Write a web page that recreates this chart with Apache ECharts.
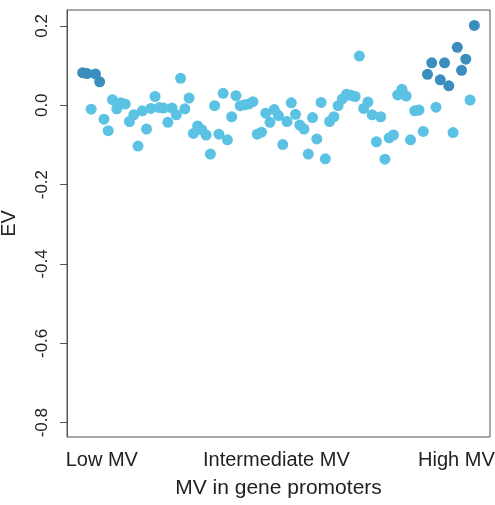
<!DOCTYPE html>
<html>
<head>
<meta charset="utf-8">
<script src="https://cdn.jsdelivr.net/npm/echarts@6/dist/echarts.min.js"></script>
<style>
html,body{margin:0;padding:0;background:#fff;}
#chart{width:495px;height:505px;}
</style>
</head>
<body>
<div id="chart"></div>
<script>
// EV value of each promoter-MV bin, ordered from low to high MV
const evValues = [
  0.082, 0.080, -0.010, 0.079, 0.059, -0.035, -0.064, 0.014, -0.009, 0.006,
  0.003, -0.041, -0.024, -0.103, -0.014, -0.060, -0.008, 0.022, -0.006, -0.007,
  -0.043, -0.007, -0.024, 0.068, -0.009, 0.018, -0.071, -0.052, -0.062, -0.075,
  -0.123, -0.001, -0.073, 0.030, -0.087, -0.029, 0.024, -0.001, 0.001, 0.003,
  0.009, -0.073, -0.068, -0.020, -0.043, -0.011, -0.026, -0.099, -0.041, 0.006,
  -0.023, -0.050, -0.060, -0.123, -0.031, -0.085, 0.007, -0.135, -0.041, -0.029,
  -0.001, 0.016, 0.028, 0.025, 0.022, 0.124, -0.008, 0.008, -0.024, -0.092,
  -0.029, -0.136, -0.082, -0.075, 0.026, 0.040, 0.023, -0.087, -0.014, -0.012,
  -0.066, 0.078, 0.107, -0.005, 0.064, 0.107, 0.049, -0.069, 0.146, 0.088,
  0.116, 0.013, 0.201
];
// 1 = highlighted (dark blue), 0 = regular (light blue)
const highlighted = [
  1, 1, 0, 1, 1, 0, 0, 0, 0, 0,
  0, 0, 0, 0, 0, 0, 0, 0, 0, 0,
  0, 0, 0, 0, 0, 0, 0, 0, 0, 0,
  0, 0, 0, 0, 0, 0, 0, 0, 0, 0,
  0, 0, 0, 0, 0, 0, 0, 0, 0, 0,
  0, 0, 0, 0, 0, 0, 0, 0, 0, 0,
  0, 0, 0, 0, 0, 0, 0, 0, 0, 0,
  0, 0, 0, 0, 0, 0, 0, 0, 0, 0,
  0, 1, 1, 0, 1, 1, 1, 0, 1, 1,
  1, 0, 1
];
const xCategoryLabels = ["Low MV", "Intermediate MV", "High MV"];
const xCategoryPositions = [5.5, 46.5, 88.8];
const yTicks = [-0.8, -0.6, -0.4, -0.2, 0.0, 0.2];

const n = evValues.length;
const regularPts = [], highPts = [];
evValues.forEach((v, i) => {
  (highlighted[i] ? highPts : regularPts).push([i + 1, v]);
});
const pad = 0.04 * (n - 1);

const chart = echarts.init(document.getElementById('chart'), null, {renderer: 'canvas'});

chart.setOption({
  animation: false,
  backgroundColor: '#fff',
  grid: {
    left: 67, right: 5, top: 10, bottom: 68,
    outerBoundsMode: 'none',
    containLabel: false,
    show: true, borderColor: '#555', borderWidth: 1, backgroundColor: 'transparent'
  },
  xAxis: {
    type: 'value',
    min: 1 - pad, max: n + pad,
    splitLine: {show: false},
    axisLine: {show: false, onZero: false},
    axisTick: {show: false},
    axisLabel: {
      customValues: xCategoryPositions,
      formatter: v => {
        let best = null, d = 1e9;
        xCategoryPositions.forEach((p, i) => { if (Math.abs(p - v) < d) { d = Math.abs(p - v); best = xCategoryLabels[i]; } });
        return best;
      },
      hideOverlap: false,
      fontFamily: 'Liberation Sans, Arial, sans-serif',
      fontSize: 20, color: '#222', margin: 13, showMinLabel: true, showMaxLabel: true
    },
    name: 'MV in gene promoters',
    nameLocation: 'middle',
    nameGap: 41,
    nameTextStyle: {fontFamily: 'Liberation Sans, Arial, sans-serif', fontSize: 21, color: '#222'}
  },
  yAxis: {
    type: 'value',
    min: -0.836, max: 0.24,
    splitLine: {show: false},
    axisLine: {show: true, onZero: false, lineStyle: {color: '#555', width: 1}},
    axisTick: {show: true, inside: false, customValues: yTicks, length: 7, lineStyle: {color: '#555', width: 1}},
    axisLabel: {
      customValues: yTicks,
      formatter: v => v.toFixed(1),
      rotate: 90,
      fontFamily: 'Liberation Sans, Arial, sans-serif',
      fontSize: 17, color: '#222', margin: 16
    },
    name: 'EV',
    nameLocation: 'middle',
    nameGap: 48,
    nameRotate: 90,
    nameTextStyle: {fontFamily: 'Liberation Sans, Arial, sans-serif', fontSize: 20, color: '#222'}
  },
  series: [
    {
      type: 'scatter', name: 'regular', data: regularPts,
      symbol: 'circle', symbolSize: 11,
      itemStyle: {color: '#5bc2e4', opacity: 1},
      z: 2
    },
    {
      type: 'scatter', name: 'high', data: highPts,
      symbol: 'circle', symbolSize: 11,
      itemStyle: {color: '#3b8dbd', opacity: 1},
      z: 3
    }
  ]
});
</script>
</body>
</html>
